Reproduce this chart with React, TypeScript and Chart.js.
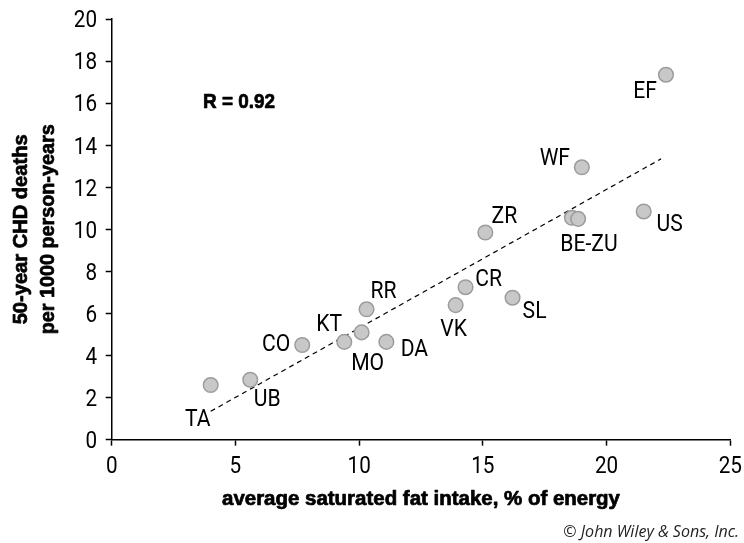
import { useEffect, useRef } from "react";
import { Chart, registerables } from "chart.js";

Chart.register(...registerables);

// Seven Countries cohorts: saturated fat intake vs. 50-year CHD mortality
const countryCodes = ["TA", "UB", "CO", "KT", "MO", "RR", "DA", "VK", "CR", "SL", "ZR", "BE-ZU", "", "US", "WF", "EF"];
const fatIntake = [4.0, 5.6, 7.7, 9.4, 10.1, 10.3, 11.1, 13.9, 14.3, 16.2, 15.1, 18.6, 18.85, 21.5, 19.0, 22.4];
const chdDeaths = [2.6, 2.85, 4.5, 4.65, 5.1, 6.2, 4.65, 6.4, 7.25, 6.75, 9.85, 10.55, 10.5, 10.85, 12.95, 17.35];

// regression line end points
const trendX = [4.0, 22.2];
const trendY = [1.35, 13.35];

const xTicks = [0, 5, 10, 15, 20, 25];
const yTicks = [0, 2, 4, 6, 8, 10, 12, 14, 16, 18, 20];

const correlationText = "R = 0.92";
const xTitle = "average saturated fat intake, % of energy";
const yTitle = ["50-year CHD deaths", "per 1000 person-years"];
const creditText = "\u00a9 John Wiley & Sons, Inc.";

// label centre offsets from each marker centre, in pixels
const labelOffsets: [number, number][] = [
  [-13, 32], [17, 18], [-26, -3], [-15, -19], [6, 29], [17, -20], [28, 6], [-2, 22],
  [23, -10], [22, 12], [19, -18], [17, 25], [0, 0], [26, 11], [-27, -11], [-21, 15],
];

const FAMILY = "Roboto, 'Liberation Sans', sans-serif";
const BOLD_FAMILY = "'Liberation Sans', Arial, sans-serif";
const CAP = 0.711; // cap height / em
const REG_SQUEEZE = 0.88;

// draw text horizontally condensed, either by a fixed factor or to fill a given width;
// heavy text gets a thin outline to darken the strokes
function drawText(
  ctx: CanvasRenderingContext2D,
  text: string,
  x: number,
  y: number,
  font: string,
  align: CanvasTextAlign,
  squeeze: number,
  width?: number,
  heavy = 0,
) {
  ctx.save();
  ctx.font = font;
  ctx.textAlign = align;
  ctx.textBaseline = "alphabetic";
  const k = width ? width / ctx.measureText(text).width : squeeze;
  ctx.translate(x, y);
  ctx.scale(k, 1);
  ctx.fillText(text, 0, 0);
  if (heavy > 0) {
    ctx.lineWidth = heavy;
    ctx.lineJoin = "round";
    ctx.strokeStyle = ctx.fillStyle as string;
    ctx.strokeText(text, 0, 0);
  }
  ctx.restore();
}

const annotate = {
  id: "annotate",
  afterDraw(chart: any) {
    const { ctx, chartArea, scales } = chart;
    const x = scales.x;
    const y = scales.y;
    ctx.save();
    ctx.fillStyle = "#000";

    // tick labels
    const tickSize = 23.5;
    const tickFont = `${tickSize}px ${FAMILY}`;
    xTicks.forEach((v) => {
      drawText(ctx, String(v), x.getPixelForValue(v), 473, tickFont, "center", REG_SQUEEZE);
    });
    yTicks.forEach((v) => {
      drawText(ctx, String(v), 97, y.getPixelForValue(v) + (tickSize * CAP) / 2, tickFont, "right", REG_SQUEEZE);
    });

    // cohort labels
    const labelSize = 24;
    const labelFont = `${labelSize}px ${FAMILY}`;
    countryCodes.forEach((code, i) => {
      if (!code) return;
      const px = x.getPixelForValue(fatIntake[i]) + labelOffsets[i][0];
      const py = y.getPixelForValue(chdDeaths[i]) + labelOffsets[i][1] + (labelSize * CAP) / 2;
      drawText(ctx, code, px, py, labelFont, "center", REG_SQUEEZE);
    });

    const boldFont = `bold 20px ${BOLD_FAMILY}`;
    drawText(ctx, correlationText, 203, 108, `bold 20px ${BOLD_FAMILY}`, "left", 0.8, 72, 0.7);

    // axis titles
    const cx = (chartArea.left + chartArea.right) / 2;
    const cy = (chartArea.top + chartArea.bottom) / 2;
    drawText(ctx, xTitle, cx, 505, boldFont, "center", 0.8, 398, 0.7);
    ctx.save();
    ctx.translate(0, cy);
    ctx.rotate(-Math.PI / 2);
    drawText(ctx, yTitle[0], 0, 26.5, boldFont, "center", 0.8, 190, 0.7);
    drawText(ctx, yTitle[1], 0, 54, boldFont, "center", 0.8, 210, 0.7);
    ctx.restore();

    ctx.font = `italic 16px 'Open Sans', 'Noto Sans', sans-serif`;
    ctx.textAlign = "right";
    ctx.textBaseline = "middle";
    ctx.fillStyle = "#222";
    ctx.fillText(creditText, 739, 532);
    ctx.restore();
  },
};

export default function App() {
  const ref = useRef<HTMLCanvasElement | null>(null);

  useEffect(() => {
    document.body.style.margin = "0";
    const canvas = ref.current;
    if (!canvas) return;
    const chart = new Chart(canvas, {
      type: "scatter",
      data: {
        datasets: [
          {
            data: fatIntake.map((v, i) => ({ x: v, y: chdDeaths[i] })),
            pointRadius: 7.3,
            pointHoverRadius: 7.3,
            backgroundColor: "#c8c8c8",
            borderColor: "#9c9c9c",
            borderWidth: 1.5,
          },
          {
            type: "line",
            data: trendX.map((v, i) => ({ x: v, y: trendY[i] })),
            borderColor: "#000",
            borderWidth: 1.2,
            borderDash: [5, 4],
            pointRadius: 0,
            fill: false,
          },
        ],
      },
      options: {
        responsive: false,
        animation: false,
        events: [],
        layout: { padding: { left: 0, top: 19, right: 13.7, bottom: 43.3 } },
        plugins: { legend: { display: false }, tooltip: { enabled: false } },
        scales: {
          x: {
            type: "linear",
            min: 0,
            max: 25,
            afterFit: (s: any) => { s.height = 60; },
            afterBuildTicks: (s: any) => { s.ticks = xTicks.map((v) => ({ value: v })); },
            grid: { drawOnChartArea: false, drawTicks: true, tickLength: 6, tickColor: "#000", tickWidth: 1.5 },
            border: { display: true, color: "#000", width: 1.5 },
            ticks: { display: false },
          },
          y: {
            type: "linear",
            min: 0,
            max: 20,
            afterFit: (s: any) => { s.width = 111.7; },
            afterBuildTicks: (s: any) => { s.ticks = yTicks.map((v) => ({ value: v })); },
            grid: { drawOnChartArea: false, drawTicks: true, tickLength: 6, tickColor: "#000", tickWidth: 1.5 },
            border: { display: true, color: "#000", width: 1.5 },
            ticks: { display: false },
          },
        },
      },
      plugins: [annotate],
    });
    return () => chart.destroy();
  }, []);

  return <canvas ref={ref} width={744} height={543} style={{ display: "block" }} />;
}
